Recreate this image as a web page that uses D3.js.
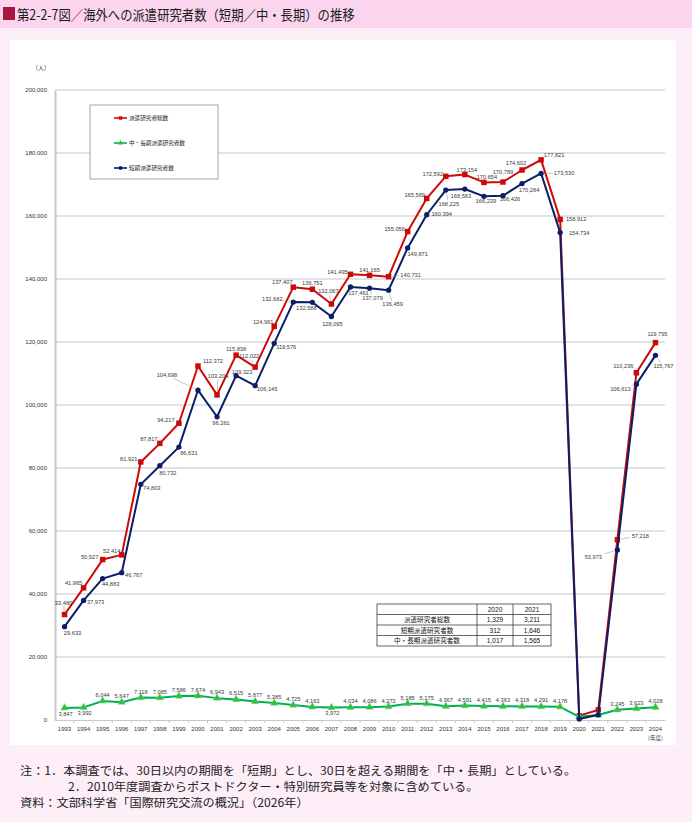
<!DOCTYPE html>
<html>
<head>
<meta charset="utf-8">
<script src="https://cdn.jsdelivr.net/npm/d3@7"></script>
<style>
  body { margin: 0; background: #fdeef7; }
  svg { display: block; }
</style>
</head>
<body>
<svg id="chart" width="692" height="822"></svg>
<script>
// ---- data ----
const years = ['1993', '1994', '1995', '1996', '1997', '1998', '1999', '2000',
    '2001', '2002', '2003', '2004', '2005', '2006', '2007', '2008',
    '2009', '2010', '2011', '2012', '2013', '2014', '2015', '2016',
    '2017', '2018', '2019', '2020', '2021', '2022', '2023', '2024']

const total = [33480, 41965, 50927, 52414, 81921, 87817, 94217, 112372,
    103204, 115838, 112022, 124961, 137407, 136751, 132067, 141495,
    141165, 140731, 155056, 165569, 172592, 173154, 170654, 170789,
    174602, 177821, 158912, 1329, 3211, 57218, 110236, 119795]

const longTerm = [3847, 3992, 6044, 5647, 7118, 7085, 7586, 7674,
    6943, 6515, 5877, 5385, 4725, 4163, 3972, 4034,
    4086, 4272, 5185, 5175, 4367, 4591, 4415, 4363,
    4318, 4291, 4178, 1017, 1565, 3245, 3623, 4028]

const shortTerm = [29633, 37973, 44883, 46767, 74803, 80732, 86631, 104698,
    96261, 109323, 106145, 119576, 132682, 132588, 128095, 137461,
    137079, 136459, 149871, 160394, 168225, 168563, 166239, 166426,
    170284, 173530, 154734, 312, 1646, 53973, 106613, 115767]

const yTicks = [0, 20000, 40000, 60000, 80000, 100000, 120000, 140000, 160000, 180000, 200000]

const legendNames = ['派遣研究者総数', '中・長期派遣研究者数', '短期派遣研究者数']
const tableYears = ['2020', '2021']
const tableRowNames = ['派遣研究者総数', '短期派遣研究者数', '中・長期派遣研究者数']

const notes = [
    '注：1．本調査では、30日以内の期間を「短期」とし、30日を超える期間を「中・長期」としている。',
    '2．2010年度調査からポストドクター・特別研究員等を対象に含めている。',
    '資料：文部科学省「国際研究交流の概況」（2026年）'
]

// label placement relative to each point: [dx, dy, leader], null = no label
const totalLabelAt = [[-1, -12, 1], [-10, -5], [-13, -3], [-10, -4], [-12, -3], [-11, -4], [-13, -3], [15, -5],
    [1, -19, 1], [0, -6], [-6, -11, 1], [-11, -4], [-11, -5], [0, -6], [-3, -13, 1], [-13, -2],
    [0, -5], [22, -2, 1], [-13, -3], [-12, -3], [-13, -2], [2, -5], [3, -5], [0, -10],
    [-6, -7], [13, -5], [16, 0], null, null, [23, -4, 1], [-13, -7], [2, -9]]

const shortLabelAt = [[8, 6], [12, 2], [8, 5], [12, 2], [11, 4], [8, 7], [10, 6], [-31, -15, 1],
    [4, 6], [6, -4], [12, 3], [12, 4], [-21, -3, 1], [-6, 6], [1, 7], [8, 6],
    [3, 10, 1], [4, 14, 1], [10, 6], [15, -1], [3, 14, 1], [-4, 7, 1], [2, 5], [7, 3],
    [7, 6], [23, 0, 1], [19, 0], null, null, [-24, 7, 1], [-16, 5, 1], [8, 11, 1]]

const longLabelAt = years.map(yr =>
    (yr === '2020' || yr === '2021') ? null
        : (yr === '1993' || yr === '1994' || yr === '2007') ? [1, 6] : [0, -6])

// ---- styles ----
const RED = '#cc0a0a'
const NAVY = '#0b1f66'
const GREEN = '#00b050'
const NUM_FONT = '"Liberation Sans", Arial, sans-serif'
const JP_FONT = '"Noto Sans CJK JP", "Noto Sans", sans-serif'

const fmt = d3.format(',')

const svg = d3.select('#chart')

// page background / frame
svg.append('rect')
    .attr('width', 692).attr('height', 822)
    .attr('fill', '#fdeef7')

svg.append('rect')
    .attr('width', 692).attr('height', 28)
    .attr('fill', '#fbd5ee')

svg.append('rect')
    .attr('x', 3).attr('y', 7).attr('width', 12).attr('height', 13)
    .attr('fill', '#a8173e')

const title = svg.append('text')
    .attr('y', 20)
    .style('font-family', JP_FONT).style('font-size', '14px')
    .attr('fill', '#1a1a1a')
title.append('tspan').text('第2-2-7図')
title.append('tspan').attr('fill', '#d0103a').text('／')
title.append('tspan').text('海外への派遣研究者数（短期／中・長期）の推移')
// squeeze the title to the width it takes in the figure
const titleW = title.node().getComputedTextLength()
title.attr('transform', `translate(17,0) scale(${338 / titleW},1)`)

svg.append('rect')
    .attr('x', 10).attr('y', 40).attr('width', 666).attr('height', 705)
    .attr('fill', '#fff')

// ---- scales ----
const x = d3.scaleBand().domain(years).range([55, 665]).padding(0)
const cx = yr => x(yr) + x.bandwidth() / 2
const y = d3.scaleLinear().domain([0, 200000]).range([720, 90])

// gridlines
svg.append('g').attr('class', 'grid')
    .selectAll('line')
    .data(yTicks.filter(t => t > 0))
    .join('line')
    .attr('x1', 55).attr('x2', 665)
    .attr('y1', y).attr('y2', y)
    .attr('stroke', '#d9d9d9').attr('stroke-width', 1.3)

// y axis
const yAxis = svg.append('g')
    .attr('transform', 'translate(55,0)')
    .call(d3.axisLeft(y).tickValues(yTicks).tickSize(0).tickPadding(8).tickFormat(fmt))
yAxis.select('.domain').attr('stroke', '#c8c8c8').attr('stroke-width', 2)
yAxis.selectAll('text')
    .style('font-family', NUM_FONT).style('font-size', '6px').attr('fill', '#333')

svg.append('text')
    .attr('x', 41).attr('y', 70)
    .attr('text-anchor', 'middle')
    .style('font-family', JP_FONT).style('font-size', '6px').attr('fill', '#333')
    .text('（人）')

// x axis
const xAxis = svg.append('g')
    .attr('transform', 'translate(0,720)')
    .call(d3.axisBottom(x).tickSize(0).tickPadding(7))
xAxis.select('.domain').attr('stroke', '#c8c8c8').attr('stroke-width', 1.2)
xAxis.selectAll('text')
    .style('font-family', NUM_FONT).style('font-size', '6px').attr('fill', '#333')

// tick marks between categories
xAxis.append('g')
    .selectAll('line')
    .data(years.slice(1))
    .join('line')
    .attr('x1', d => x(d)).attr('x2', d => x(d))
    .attr('y1', 0).attr('y2', 3)
    .attr('stroke', '#c8c8c8')

svg.append('text')
    .attr('x', cx('2024')).attr('y', 740)
    .attr('text-anchor', 'middle')
    .style('font-family', JP_FONT).style('font-size', '5.5px').attr('fill', '#333')
    .text('(年度)')

// ---- series ----
const line = d3.line()
    .x((d, i) => cx(years[i]))
    .y(d => y(d))

const symbolType = {square: d3.symbolSquare, triangle: d3.symbolTriangle, circle: d3.symbolCircle}
const marker = {
    square: d3.symbol(symbolType.square, 30),
    triangle: d3.symbol(symbolType.triangle, 24),
    circle: d3.symbol(symbolType.circle, 22)
}

const series = [
    {name: legendNames[0], values: total, color: RED, fill: RED, shape: 'square', labels: totalLabelAt},
    {name: legendNames[1], values: longTerm, color: GREEN, fill: '#2fbf3a', shape: 'triangle', labels: longLabelAt},
    {name: legendNames[2], values: shortTerm, color: NAVY, fill: NAVY, shape: 'circle', labels: shortLabelAt}
]

const seriesG = svg.append('g')

series.forEach(s => {
    const g = seriesG.append('g')
    g.append('path')
        .datum(s.values)
        .attr('d', line)
        .attr('fill', 'none')
        .attr('stroke', s.color)
        .attr('stroke-width', 2)
        .attr('stroke-linejoin', 'round')

    g.selectAll('path.mk')
        .data(s.values)
        .join('path')
        .attr('class', 'mk')
        .attr('transform', (d, i) => `translate(${cx(years[i])},${y(d)})`)
        .attr('d', marker[s.shape])
        .attr('fill', s.fill)
        .attr('stroke', s.shape === 'triangle' ? '#7fd98a' : 'none')
        .attr('stroke-width', 0.5)
})

// ---- data labels ----
const labelG = svg.append('g')
    .style('font-family', NUM_FONT).style('font-size', '5.7px')

series.forEach(s => {
    s.values.forEach((v, i) => {
        const at = s.labels[i]
        if (!at) return
        const px = cx(years[i])
        const py = y(v)
        const lx = px + at[0]
        const ly = py + at[1]
        if (at[2]) {
            // leader from label box edge to the marker
            const dx = px - lx
            const dy = py - ly
            const hw = 11, hh = 3.5
            const t = Math.min(dx ? hw / Math.abs(dx) : Infinity, dy ? hh / Math.abs(dy) : Infinity)
            const len = Math.hypot(dx, dy)
            labelG.append('line')
                .attr('x1', lx + dx * t).attr('y1', ly + dy * t)
                .attr('x2', px - dx / len * 3.5).attr('y2', py - dy / len * 3.5)
                .attr('stroke', '#8c8c8c').attr('stroke-width', 0.5)
        }
        labelG.append('text')
            .attr('x', lx).attr('y', ly + 2)
            .attr('text-anchor', 'middle')
            .attr('fill', '#3a3a3a')
            .text(fmt(v))
    })
})

// ---- legend ----
const legend = svg.append('g').attr('transform', 'translate(90,105)')
legend.append('rect')
    .attr('width', 128).attr('height', 74)
    .attr('fill', '#fff')
    .attr('stroke', '#a6a6a6').attr('stroke-width', 1)

series.forEach((s, k) => {
    const row = legend.append('g').attr('transform', `translate(0,${13 + k * 25})`)
    row.append('line')
        .attr('x1', 24).attr('x2', 37)
        .attr('stroke', s.color).attr('stroke-width', 1.6)
    row.append('path')
        .attr('transform', 'translate(30.5,0)')
        .attr('d', d3.symbol(symbolType[s.shape], 12))
        .attr('fill', s.fill)
    row.append('text')
        .attr('x', 39).attr('y', 2)
        .style('font-family', JP_FONT).style('font-size', '5.6px').attr('fill', '#222')
        .text(s.name)
})

// ---- inset table (2020 / 2021) ----
const tableData = [total, shortTerm, longTerm].map((vals, r) => ({
    name: tableRowNames[r],
    vals: tableYears.map(yr => vals[years.indexOf(yr)])
}))

const tbl = svg.append('g').attr('transform', 'translate(377,604)')
const colX = [0, 100, 136, 174]
const rowH = 10.5
tbl.append('rect')
    .attr('width', colX[3]).attr('height', rowH * 4)
    .attr('fill', '#fff').attr('stroke', '#222').attr('stroke-width', 0.7)
d3.range(1, 4).forEach(r => tbl.append('line')
    .attr('x1', 0).attr('x2', colX[3])
    .attr('y1', r * rowH).attr('y2', r * rowH)
    .attr('stroke', '#222').attr('stroke-width', 0.7))
colX.slice(1, 3).forEach(c => tbl.append('line')
    .attr('x1', c).attr('x2', c).attr('y1', 0).attr('y2', rowH * 4)
    .attr('stroke', '#222').attr('stroke-width', 0.7))

const cellText = (txt, c, r, font) => tbl.append('text')
    .attr('x', (colX[c] + colX[c + 1]) / 2)
    .attr('y', r * rowH + 7.6)
    .attr('text-anchor', 'middle')
    .style('font-family', font).style('font-size', '6.6px').attr('fill', '#111')
    .text(txt)

tableYears.forEach((yr, c) => cellText(yr, c + 1, 0, NUM_FONT))
tableData.forEach((row, r) => {
    cellText(row.name, 0, r + 1, JP_FONT)
    row.vals.forEach((v, c) => cellText(fmt(v), c + 1, r + 1, NUM_FONT))
})

// ---- notes ----
const noteX = [20, 68, 20]
const noteY = [775, 791, 807]
const noteSel = svg.append('g')
    .style('font-family', JP_FONT).style('font-size', '11.6px')
    .attr('fill', '#222')
    .selectAll('text')
    .data(notes)
    .join('text')
    .attr('y', (d, i) => noteY[i])
    .text(d => d)
// widen slightly so the first note spans the same width as in the figure
const noteScale = 557 / noteSel.node().getComputedTextLength()
noteSel.attr('transform', (d, i) => `translate(${noteX[i]},0) scale(${noteScale},1)`)
</script>
</body>
</html>
